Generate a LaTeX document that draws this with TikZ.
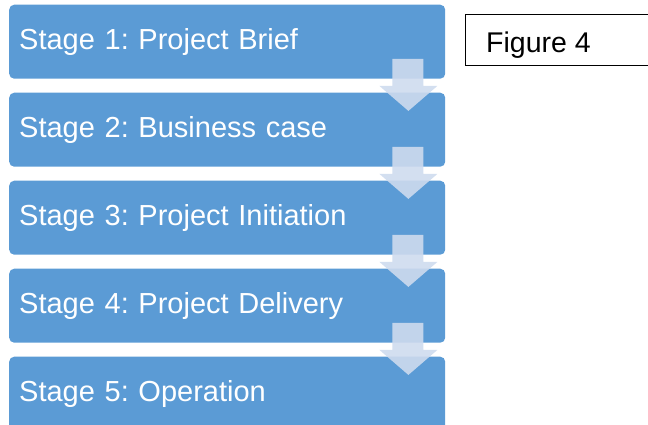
\documentclass[tikz,border=0pt]{standalone}
\usepackage{fontspec}
\setmainfont{Liberation Sans}
\usetikzlibrary{calc}
\definecolor{stageblue}{HTML}{5B9BD5}
\definecolor{arrowblue}{HTML}{CEDBEE}
\frenchspacing
\begin{document}
\begin{tikzpicture}[x=1pt,y=-1pt,
  stagebox/.style={fill=stageblue, draw=none, rounded corners=5pt,
    minimum width=436pt, minimum height=74pt, anchor=north west,
    inner xsep=9.5pt, inner ysep=0pt, text width=416pt, align=left,
    text height=16pt, text depth=0pt, text=white,
    font=\fontsize{29}{34}\selectfont\frenchspacing},
  flowarrow/.style={fill=arrowblue, fill opacity=0.9, draw=none},
  figbox/.style={draw=black, line width=0.8pt, anchor=north west,
    minimum width=220pt, minimum height=51pt, inner sep=0pt},
  figtext/.style={anchor=base west, inner sep=0pt, text=black,
    font=\fontsize{28.5}{34}\selectfont}]
\useasboundingbox (0,0) rectangle (648,425);
\node[stagebox] (b1) at (9,4.5)   {Stage 1: Project Brief};
\node[stagebox] (b2) at (9,92.5)  {Stage 2: Business case};
\node[stagebox] (b3) at (9,180.5) {Stage 3: Project Initiation};
\node[stagebox] (b4) at (9,268.5) {Stage 4: Project Delivery};
\node[stagebox] (b5) at (9,356.5) {Stage 5: Operation};
\foreach \i in {1,2,3,4}{
  \fill[flowarrow] ($(b\i.south east)+(-53,-20)$) -- ($(b\i.south east)+(-22,-20)$)
    -- ($(b\i.south east)+(-22,7)$) -- ($(b\i.south east)+(-8,7)$)
    -- ($(b\i.south east)+(-37,32)$) -- ($(b\i.south east)+(-66,7)$)
    -- ($(b\i.south east)+(-53,7)$) -- cycle;
}
\node[figbox] (fig) at (465,14) {};
\node[figtext] (figlabel) at ($(fig.north west)+(21,39)$) {Figure 4};
\end{tikzpicture}
\end{document}
